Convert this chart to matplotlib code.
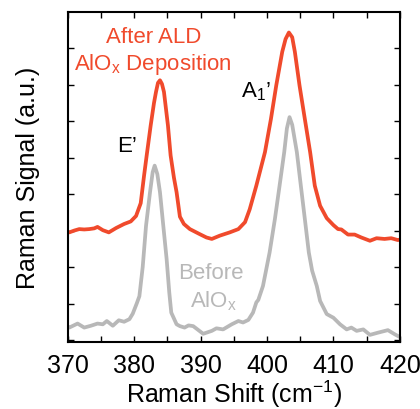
import numpy as np
import matplotlib
matplotlib.use("Agg")
import matplotlib.pyplot as plt

plt.rcParams['font.family'] = ['Liberation Sans', 'DejaVu Sans']
plt.rcParams['mathtext.fontset'] = 'custom'
plt.rcParams['mathtext.rm'] = 'Liberation Sans'
FONT = 18
ANN = 16

# Raman shift (cm^-1) and signal (a.u., offset) after ALD AlOx deposition
after_shift = [370.0, 370.25, 371.0, 371.75, 372.5, 373.25, 374.0, 374.5, 375.3, 376.2,
               377.3, 378.5, 379.5, 380.3, 381.0, 381.5, 381.9, 382.5, 383.0, 383.3,
               383.6, 383.9, 384.2, 384.5, 385.1, 385.5, 386.0, 386.4, 386.9, 387.5,
               388.4, 389.9, 390.9, 391.7, 392.9, 394.4, 395.7, 396.7, 397.4, 398.4,
               399.7, 400.6, 401.4, 402.3, 402.8, 403.3, 403.8, 404.2, 404.9, 405.7,
               406.5, 407.2, 408.0, 409.0, 410.0, 410.7, 411.2, 412.2, 413.2, 414.2,
               415.5, 416.5, 417.7, 418.7, 419.7, 420.0]
after_signal = [2.96, 2.95, 3.00, 3.04, 3.03, 3.04, 3.06, 3.10, 3.01, 2.95,
                3.07, 3.18, 3.25, 3.40, 3.75, 4.50, 5.06, 5.88, 6.50, 6.80,
                7.05, 7.12, 7.02, 6.80, 5.88, 5.06, 4.45, 4.05, 3.38, 3.18,
                3.04, 2.90, 2.81, 2.77, 2.86, 2.95, 3.04, 3.23, 3.58, 4.23,
                5.15, 6.06, 6.98, 7.90, 8.25, 8.43, 8.30, 7.90, 6.98, 6.06,
                5.15, 4.23, 3.68, 3.34, 3.15, 3.04, 3.03, 2.89, 2.89, 2.81,
                2.72, 2.79, 2.77, 2.79, 2.74, 2.75]

# Raman shift (cm^-1) and signal (a.u.) before AlOx
before_shift = [370.0, 370.25, 371.5, 372.5, 373.5, 374.5, 375.3, 375.9, 376.8, 377.7,
                378.5, 379.3, 379.8, 380.4, 380.8, 381.3, 381.8, 382.4, 382.8, 383.1,
                383.5, 383.9, 384.4, 384.9, 385.3, 385.6, 386.4, 386.9, 387.6, 388.2,
                388.9, 390.4, 391.7, 392.4, 393.4, 394.7, 395.7, 396.4, 397.2, 397.9,
                398.4, 398.7, 399.4, 400.4, 401.2, 401.9, 402.6, 403.0, 403.4, 403.8,
                404.5, 405.1, 405.7, 406.3, 406.8, 407.5, 408.0, 409.0, 410.0, 411.0,
                412.0, 412.7, 413.5, 414.5, 415.5, 416.7, 418.2, 419.2, 420.0]
before_signal = [0.36, 0.34, 0.45, 0.34, 0.39, 0.45, 0.43, 0.52, 0.39, 0.54,
                 0.50, 0.57, 0.72, 1.00, 1.20, 2.00, 3.13, 4.05, 4.60, 4.78,
                 4.55, 4.05, 3.13, 2.22, 1.30, 0.75, 0.43, 0.38, 0.34, 0.40,
                 0.38, 0.17, 0.25, 0.32, 0.29, 0.43, 0.52, 0.48, 0.55, 0.75,
                 1.03, 1.10, 1.48, 2.40, 3.32, 4.23, 5.15, 5.80, 6.11, 5.90,
                 5.15, 4.23, 3.32, 2.40, 1.90, 1.48, 1.07, 0.71, 0.61, 0.43,
                 0.29, 0.34, 0.25, 0.29, 0.14, 0.20, 0.27, 0.16, 0.08]

RED = '#f04a2c'
GRAY = '#b8b8b8'

fig = plt.figure(figsize=(4.2, 4.1), dpi=100)
ax = fig.add_axes([0.161, 0.163, 0.791, 0.806])

ax.plot(before_shift, before_signal, color=GRAY, lw=2.7, solid_joinstyle='round')
ax.plot(after_shift, after_signal, color=RED, lw=2.7, solid_joinstyle='round')

ax.set_xlim(370, 420)
ax.set_ylim(-0.06, 9.0)
ax.set_xticks(np.arange(370, 421, 10))
ax.set_xticks(np.arange(375, 420, 10), minor=True)
ax.set_yticks(np.arange(0, 9, 1))
ax.set_yticklabels([])
ax.tick_params(which='both', direction='in', top=True, right=True,
               width=1.0, length=4.5)
ax.tick_params(which='major', labelsize=FONT, pad=8)
for s in ax.spines.values():
    s.set_linewidth(1.5)

ax.set_xlabel('Raman Shift (cm$^{\\mathregular{-1}}$)', fontsize=FONT, labelpad=0)
ax.set_ylabel('Raman Signal (a.u.)', fontsize=FONT, labelpad=12)

ax.text(382.9, 8.17, 'After ALD', color=RED, fontsize=ANN, ha='center', va='baseline')
ax.text(382.8, 7.44, 'AlO$_\\mathregular{x}$ Deposition', color=RED, fontsize=ANN,
        ha='center', va='baseline')
ax.text(378.9, 5.19, 'E’', color='black', fontsize=ANN, ha='center', va='baseline')
ax.text(398.3, 6.68, 'A$_\\mathregular{1}$’', color='black', fontsize=ANN,
        ha='center', va='baseline')
ax.text(391.6, 1.69, 'Before', color=GRAY, fontsize=ANN, ha='center', va='baseline')
ax.text(392.0, 0.93, 'AlO$_\\mathregular{x}$', color=GRAY, fontsize=ANN,
        ha='center', va='baseline')

fig.savefig('out.png', dpi=100)
